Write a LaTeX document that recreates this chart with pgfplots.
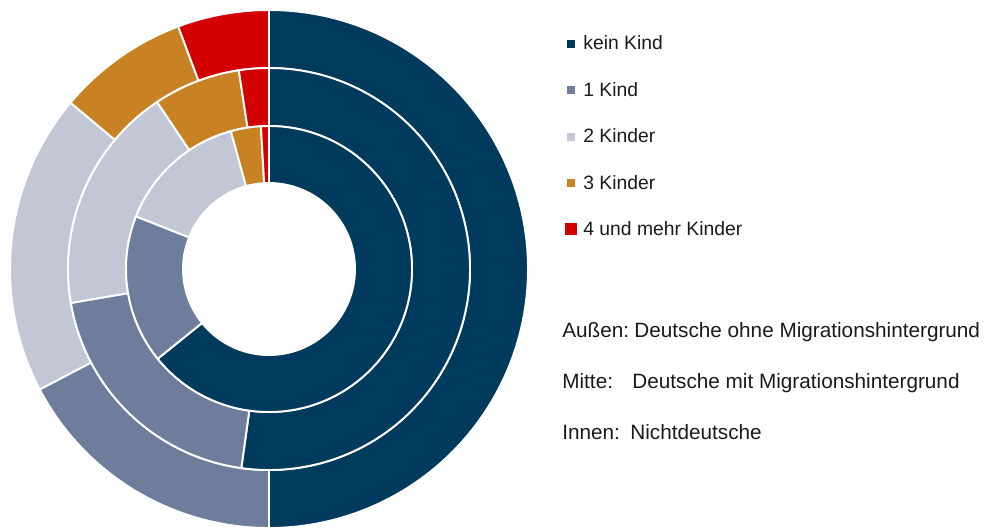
\documentclass[border=0pt]{standalone}
\usepackage{pgfplots}
\pgfplotsset{compat=1.18}
\usepackage{fontspec}
\setmainfont{Liberation Sans}

\definecolor{kein}{HTML}{003A5C}
\definecolor{eins}{HTML}{6F7D9C}
\definecolor{zwei}{HTML}{C3C7D5}
\definecolor{drei}{HTML}{C98223}
\definecolor{vier}{HTML}{D20000}
\definecolor{txt}{HTML}{1A1A1A}

% Anteile in Prozent: kein Kind, 1 Kind, 2 Kinder, 3 Kinder, 4 und mehr Kinder
\def\aussen{50.0/kein,17.3/eins,18.8/zwei,8.2/drei,5.7/vier}
\def\mitte{52.2/kein,20.1/eins,18.3/zwei,7.0/drei,2.4/vier}
\def\innen{64.2/kein,16.8/eins,14.7/zwei,3.4/drei,0.9/vier}

% #1 list, #2 inner radius, #3 outer radius (px)
\newcommand\ring[3]{%
  \gdef\cum{0}%
  \foreach \v/\c in #1 {%
    \pgfmathsetmacro\a{90-3.6*\cum}%
    \pgfmathsetmacro\b{90-3.6*(\cum+\v)}%
    \pgfmathsetmacro\n{\cum+\v}\xdef\cum{\n}%
    \fill[\c, draw=white, line width=1.1pt]
      ([shift={(\a:#3*0.02cm)}]C) arc[start angle=\a, end angle=\b, radius=#3*0.02cm]
      -- ([shift={(\b:#2*0.02cm)}]C) arc[start angle=\b, end angle=\a, radius=#2*0.02cm] -- cycle;
  }%
}

\begin{document}
\begin{tikzpicture}
\begin{axis}[
    x=0.02cm, y=0.02cm, y dir=reverse,
    xmin=0, xmax=988, ymin=0, ymax=529,
    scale only axis, hide axis, clip=false,
  ]
  \coordinate (BL) at (axis cs:0,529);
  \coordinate (TR) at (axis cs:988,0);
  \pgfplotsextra{%
    \coordinate (C) at (axis cs:269,269);%
    \ring{\aussen}{201}{259}%
    \ring{\mitte}{143}{201}%
    \ring{\innen}{86}{143}%
  }
  % Legende
  \fill[kein] (axis cs:567,39.5) rectangle (axis cs:575,47.5);
  \fill[eins] (axis cs:567,86) rectangle (axis cs:575,94);
  \fill[zwei] (axis cs:567,132.5) rectangle (axis cs:575,140.5);
  \fill[drei] (axis cs:567,178.5) rectangle (axis cs:575,186.5);
  \fill[vier] (axis cs:565,222.5) rectangle (axis cs:577,234.5);
  \begin{scope}[every node/.style={anchor=base west, inner sep=0pt, text=txt, font=\fontsize{11}{13}\selectfont}]
    \node at (axis cs:583,49.5) {kein Kind};
    \node at (axis cs:583,96.5) {1 Kind};
    \node at (axis cs:583,142.5) {2 Kinder};
    \node at (axis cs:583,189) {3 Kinder};
    \node at (axis cs:583,235) {4 und mehr Kinder};
  \end{scope}
  \begin{scope}[every node/.style={anchor=base west, inner sep=0pt, text=txt, font=\fontsize{11.8}{14}\selectfont}]
    \node at (axis cs:562,337) {Außen:};
    \node at (axis cs:634,337) {Deutsche ohne Migrationshintergrund};
    \node at (axis cs:562,388.5) {Mitte:};
    \node at (axis cs:632,388.5) {Deutsche mit Migrationshintergrund};
    \node at (axis cs:562,439.5) {Innen:};
    \node at (axis cs:630,439.5) {Nichtdeutsche};
  \end{scope}
\end{axis}
\pgfresetboundingbox
\path (BL) rectangle (TR);
\end{tikzpicture}
\end{document}
